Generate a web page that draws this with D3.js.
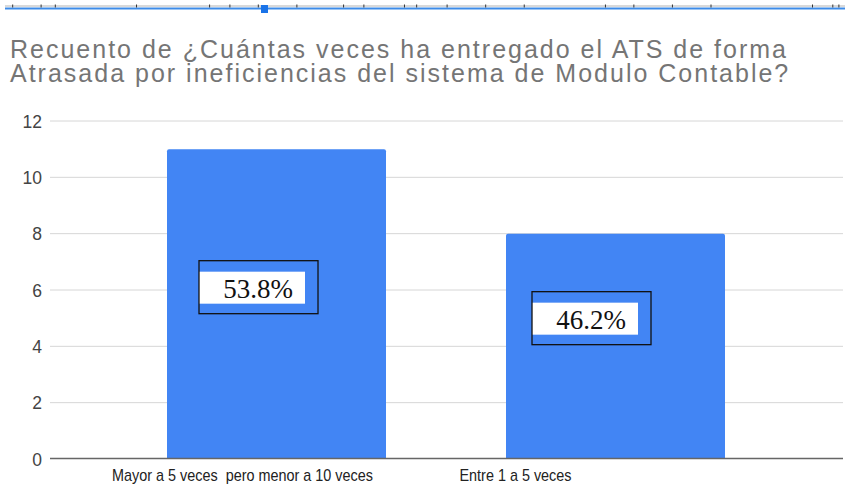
<!DOCTYPE html>
<html>
<head>
<meta charset="utf-8">
<script src="https://cdn.jsdelivr.net/npm/d3@7"></script>
<style>
  body { margin: 0; background: #fff; }
  svg { display: block; }
</style>
</head>
<body>
<div id="chart"></div>
<script>
var width = 845
var height = 487

// data
var categories = ['Mayor a 5 veces  pero menor a 10 veces', 'Entre 1 a 5 veces']
var counts = [11, 8]
var pctLabels = ['53.8%', '46.2%']
var yTicks = [0, 2, 4, 6, 8, 10, 12]
var titleLines = [
    'Recuento de \u00bfCu\u00e1ntas veces ha entregado el ATS de forma',
    'Atrasada por ineficiencias del sistema de Modulo Contable?'
]

// layout bits (not data)
var labelShift = [-34, -100]
var boxAnchor = [6.1, 5.0]
var boxDx = [32, 26]

var svg = d3.select('#chart').append('svg')
    .attr('width', width)
    .attr('height', height)

// toolbar strip at the very top
var strip = svg.append('g')
strip.append('rect').attr('x', 5).attr('y', 5).attr('width', 840).attr('height', 2).attr('fill', '#d9d9d9')
strip.append('rect').attr('x', 5).attr('y', 7.5).attr('width', 840).attr('height', 2).attr('fill', '#3d8be8')
strip.append('rect').attr('x', 261).attr('y', 5).attr('width', 7).attr('height', 8).attr('fill', '#1a73e8')
var marks = [6, 20, 27, 67, 103, 113, 127, 146, 169, 179, 199, 205, 220, 239, 258, 298, 312, 331, 350, 400, 410, 413]
strip.selectAll('rect.mk').data(marks).enter().append('rect')
    .attr('class', 'mk')
    .attr('x', d => d * 2.03).attr('y', 4.5).attr('width', 1).attr('height', 3)
    .attr('fill', '#333')

// title
svg.append('g').selectAll('text').data(titleLines).enter().append('text')
    .attr('x', 10)
    .attr('y', (d, i) => 58 + i * 24)
    .attr('font-family', 'Liberation Sans, Arial, sans-serif')
    .attr('font-size', 25)
    .attr('letter-spacing', 2)
    .attr('fill', '#757575')
    .text(d => d)

var x = d3.scaleBand()
    .domain(categories)
    .range([107, 785])
    .paddingInner(0.354)
    .paddingOuter(0.177)

var y = d3.scaleLinear()
    .domain([0, 12])
    .range([459, 121])

// grid
svg.append('g').selectAll('line').data(yTicks.slice(1)).enter().append('line')
    .attr('x1', 50).attr('x2', 843)
    .attr('y1', d => y(d)).attr('y2', d => y(d))
    .attr('stroke', '#d6d6d6')
    .attr('stroke-width', 1)

svg.append('g').selectAll('text').data(yTicks).enter().append('text')
    .attr('x', 42)
    .attr('y', d => y(d) + 6.5)
    .attr('text-anchor', 'end')
    .attr('font-family', 'Liberation Sans, Arial, sans-serif')
    .attr('font-size', 17.5)
    .attr('fill', '#444')
    .text(d => d)

// bars
svg.append('g').selectAll('path').data(counts).enter().append('path')
    .attr('fill', '#4285f4')
    .attr('d', (d, i) => {
        var x0 = x(categories[i]), w = x.bandwidth(), y0 = y(d), y1 = y(0), r = 2
        return 'M' + x0 + ',' + y1 + 'V' + (y0 + r) + 'Q' + x0 + ',' + y0 + ' ' + (x0 + r) + ',' + y0 +
            'H' + (x0 + w - r) + 'Q' + (x0 + w) + ',' + y0 + ' ' + (x0 + w) + ',' + (y0 + r) + 'V' + y1 + 'Z'
    })

// baseline
svg.append('line')
    .attr('x1', 50).attr('x2', 843)
    .attr('y1', y(0) - 0.5).attr('y2', y(0) - 0.5)
    .attr('stroke', '#666')
    .attr('stroke-width', 1.5)

// x labels (condensed look)
svg.append('g').selectAll('text').data(categories).enter().append('text')
    .attr('transform', (d, i) => 'translate(' + (x(d) + x.bandwidth() / 2 + labelShift[i]) + ',481) scale(0.9,1)')
    .attr('text-anchor', 'middle')
    .attr('font-family', 'Liberation Sans, Arial, sans-serif')
    .attr('font-size', 16)
    .attr('fill', '#222')
    .style('white-space', 'pre')
    .text(d => d)

// percentage boxes
var boxes = svg.append('g').selectAll('g').data(pctLabels).enter().append('g')
    .attr('transform', (d, i) => 'translate(' + (x(categories[i]) + boxDx[i]) + ',' + (y(boxAnchor[i]) - 26.5) + ')')

boxes.append('rect')
    .attr('x', 0).attr('y', 11)
    .attr('width', 106).attr('height', 32)
    .attr('fill', '#fff')

boxes.append('rect')
    .attr('x', 0).attr('y', 0)
    .attr('width', 119).attr('height', 53)
    .attr('fill', 'none')
    .attr('stroke', '#111')
    .attr('stroke-width', 1.3)

boxes.append('text')
    .attr('x', 59)
    .attr('y', 37)
    .attr('text-anchor', 'middle')
    .attr('font-family', 'Liberation Serif, Times New Roman, serif')
    .attr('font-size', 27)
    .attr('fill', '#111')
    .text(d => d)
</script>
</body>
</html>
